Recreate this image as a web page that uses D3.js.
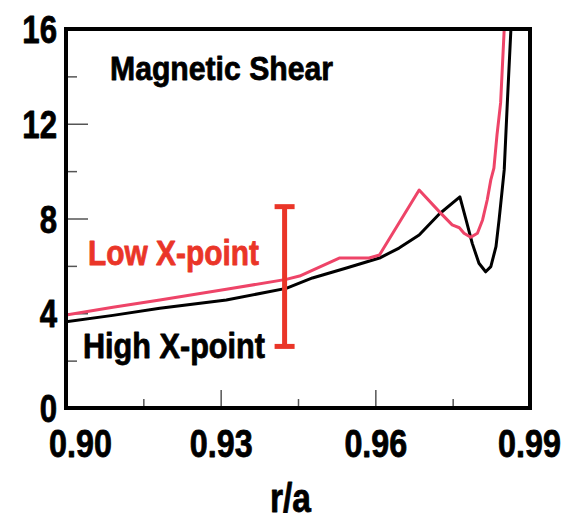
<!DOCTYPE html>
<html>
<head>
<meta charset="utf-8">
<script src="https://cdn.jsdelivr.net/npm/d3@7/dist/d3.min.js"></script>
<style>
  html, body { margin: 0; padding: 0; background: #fff; }
  svg { display: block; }
  text { font-family: "Liberation Sans", Arial, Helvetica, sans-serif; font-weight: bold; }
</style>
</head>
<body>
<svg id="chart" width="570" height="519"></svg>
<script>
// ---- data ----
const xTicks = [0.90, 0.93, 0.96, 0.99];
const xTickLabels = ["0.90", "0.93", "0.96", "0.99"];
const xMinorTicks = [0.915, 0.945, 0.975];
const yTicks = [0, 4, 8, 12, 16];
const yTickLabels = ["0", "4", "8", "12", "16"];
const yMinorTicks = [2, 6, 10, 14];

// Low X-point (pink)
const lowR = [0.9000, 0.9091, 0.9182, 0.9311, 0.9427, 0.9453, 0.9530, 0.9588, 0.9608, 0.9685,
              0.9724, 0.9749, 0.9763, 0.9772, 0.9785, 0.9798, 0.9808, 0.9817, 0.9824, 0.9830,
              0.9836, 0.9843, 0.9850];
const lowShear = [3.93, 4.25, 4.56, 5.01, 5.43, 5.57, 6.33, 6.33, 6.46, 9.20,
                  8.29, 7.73, 7.61, 7.38, 7.21, 7.38, 7.94, 8.78, 9.63, 10.13,
                  11.53, 12.88, 16.0];

// High X-point (black)
const highR = [0.9000, 0.9091, 0.9182, 0.9311, 0.9427, 0.9478, 0.9544, 0.9608, 0.9646, 0.9685,
               0.9724, 0.9764, 0.9776, 0.9788, 0.9801, 0.9814, 0.9824, 0.9834, 0.9840, 0.9845,
               0.9850, 0.9856, 0.9863];
const highShear = [3.64, 3.91, 4.21, 4.56, 5.05, 5.49, 5.91, 6.33, 6.75, 7.30,
                   8.19, 8.91, 7.94, 6.95, 6.11, 5.75, 5.97, 6.81, 7.94, 8.99,
                   10.05, 12.88, 16.0];

// error bar
const errR = [0.9424];
const errLow = [2.6];
const errHigh = [8.5];

const titleText = "Magnetic Shear";
const lowLabel = "Low X-point";
const highLabel = "High X-point";
const xTitle = "r/a";

// ---- layout ----
const svg = d3.select("#chart");
const L = 66, R = 530, T = 29, B = 408;
const x = d3.scaleLinear().domain([0.90, 0.99]).range([L, R]);
const y = d3.scaleLinear().domain([0, 16]).range([B, T]);

const pink = "#ee4468";
const red = "#ea3528";

function condense(sel, factor) {
  sel.each(function() {
    const w = this.getComputedTextLength();
    d3.select(this).attr("textLength", w * factor).attr("lengthAdjust", "spacingAndGlyphs");
  });
}
function fitWidth(sel, width) {
  sel.attr("textLength", width).attr("lengthAdjust", "spacingAndGlyphs");
}
function heavy(sel, color) {
  sel.attr("stroke", color).attr("stroke-width", 0.8).attr("stroke-linejoin", "round");
}

// clip
svg.append("defs").append("clipPath").attr("id", "plotclip")
  .append("rect").attr("x", L).attr("y", T).attr("width", R - L).attr("height", B - T);

// ticks (inside)
function tickAxis(gen, transform) {
  const g = svg.append("g").attr("transform", transform).call(gen);
  g.select(".domain").remove();
  g.selectAll(".tick line").attr("stroke", "#555").attr("stroke-width", 1.5);
  g.selectAll(".tick text").remove();
  return g;
}
tickAxis(d3.axisBottom(x).tickValues([0.93, 0.96]).tickSize(-18), `translate(0,${B})`);
tickAxis(d3.axisBottom(x).tickValues(xMinorTicks).tickSize(-9), `translate(0,${B})`);
tickAxis(d3.axisLeft(y).tickValues([4, 8, 12]).tickSize(-22), `translate(${L},0)`);
tickAxis(d3.axisLeft(y).tickValues(yMinorTicks).tickSize(-11), `translate(${L},0)`);

// tick labels
const xLab = svg.append("g").attr("transform", `translate(0,${B})`)
  .call(d3.axisBottom(x).tickValues(xTicks).tickSize(0).tickPadding(0)
        .tickFormat((d, i) => xTickLabels[i]));
xLab.select(".domain").remove();
xLab.selectAll(".tick text")
  .attr("font-size", 38).attr("font-family", "Liberation Sans, Arial, sans-serif")
  .attr("font-weight", "bold").attr("fill", "#000")
  .attr("dy", null).attr("y", 49)
  .attr("dx", (d, i) => i === 0 ? 14 : (i === 3 ? -1 : 0))
  .call(condense, 0.85)
  .call(heavy, "#000");

const yLab = svg.append("g").attr("transform", `translate(${L},0)`)
  .call(d3.axisLeft(y).tickValues(yTicks).tickSize(0).tickPadding(9)
        .tickFormat((d, i) => yTickLabels[i]));
yLab.select(".domain").remove();
yLab.selectAll(".tick text")
  .attr("font-size", 38).attr("font-family", "Liberation Sans, Arial, sans-serif")
  .attr("font-weight", "bold").attr("fill", "#000")
  .attr("dy", "0.36em")
  .call(condense, 0.82)
  .call(heavy, "#000");

// curves
const line = d3.line().x(d => x(d[0])).y(d => y(d[1])).curve(d3.curveLinear);
const plot = svg.append("g").attr("clip-path", "url(#plotclip)");
plot.append("path").datum(highR.map((r, i) => [r, highShear[i]]))
  .attr("d", line).attr("fill", "none").attr("stroke", "#000")
  .attr("stroke-width", 3).attr("stroke-linejoin", "round");
plot.append("path").datum(lowR.map((r, i) => [r, lowShear[i]]))
  .attr("d", line).attr("fill", "none").attr("stroke", pink)
  .attr("stroke-width", 3).attr("stroke-linejoin", "round");

// error bar
const eb = svg.append("g").attr("stroke", red).attr("stroke-width", 5);
errR.forEach((r, i) => {
  eb.append("line").attr("x1", x(r)).attr("x2", x(r)).attr("y1", y(errLow[i])).attr("y2", y(errHigh[i]));
  eb.append("line").attr("x1", x(r) - 10).attr("x2", x(r) + 10).attr("y1", y(errLow[i])).attr("y2", y(errLow[i]));
  eb.append("line").attr("x1", x(r) - 10).attr("x2", x(r) + 10).attr("y1", y(errHigh[i])).attr("y2", y(errHigh[i]));
});

// frame
svg.append("rect").attr("x", L).attr("y", T).attr("width", R - L).attr("height", B - T)
  .attr("fill", "none").attr("stroke", "#000").attr("stroke-width", 4);

// texts
svg.append("text").attr("x", 110).attr("y", 80).attr("font-size", 34).text(titleText).call(fitWidth, 223).call(heavy, "#000");
svg.append("text").attr("x", 88).attr("y", 265).attr("font-size", 35).attr("fill", red).text(lowLabel).call(fitWidth, 171).call(heavy, red);
svg.append("text").attr("x", 83).attr("y", 358).attr("font-size", 35).attr("fill", "#000").text(highLabel).call(fitWidth, 182).call(heavy, "#000");
svg.append("text").attr("x", 270).attr("y", 512).attr("font-size", 40).text(xTitle).call(fitWidth, 41).call(heavy, "#000");
</script>
</body>
</html>
